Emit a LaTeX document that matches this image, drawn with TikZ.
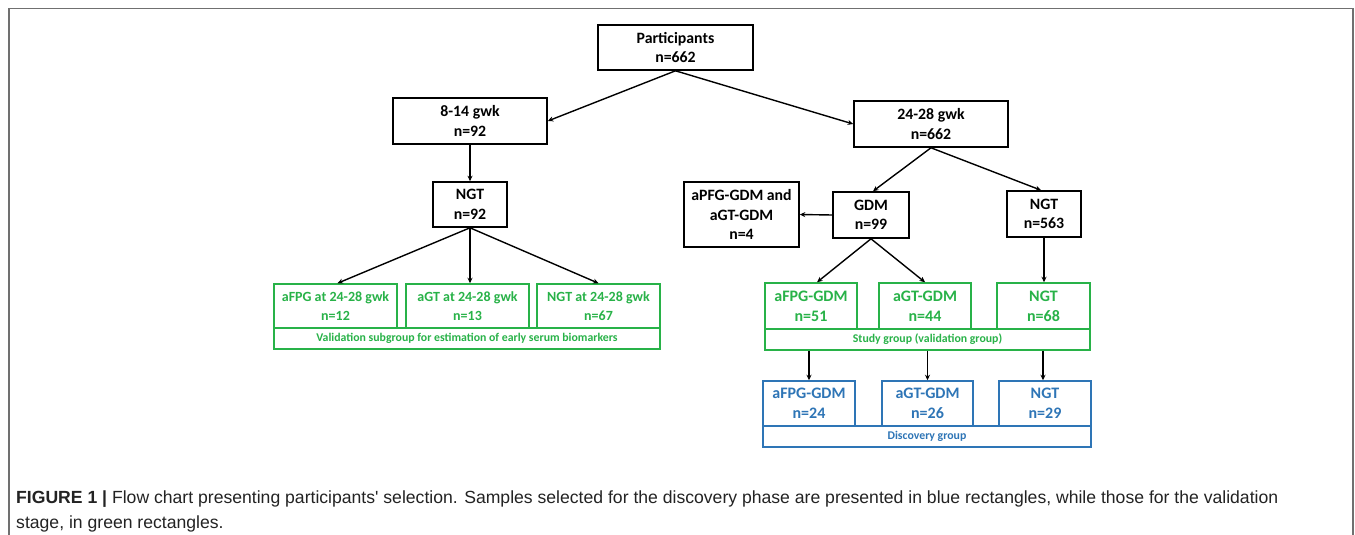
\documentclass[tikz,border=0pt]{standalone}
\usepackage{fontspec}
\setmainfont{Carlito}
\newfontfamily\capfont{Liberation Sans}
\usetikzlibrary{arrows.meta,calc}
\definecolor{fgreen}{RGB}{40,178,72}
\definecolor{fblue}{RGB}{46,117,182}
\definecolor{framegray}{RGB}{112,112,112}
\definecolor{captext}{RGB}{35,35,35}
\begin{document}
\begin{tikzpicture}[x=1pt,y=-1pt,
  box/.style={draw=black,line width=1.6pt,inner sep=0pt,align=center,
    font=\fontsize{15.8}{19.5}\selectfont\bfseries},
  gbox/.style={draw=fgreen,line width=1.5pt,text=fgreen,inner sep=0pt,align=center,
    font=\fontsize{16}{20}\selectfont\bfseries},
  lgbox/.style={gbox,font=\fontsize{14}{19}\selectfont\bfseries},
  gbar/.style={gbox,font=\fontsize{11.8}{14}\selectfont\bfseries},
  bbox/.style={draw=fblue,line width=1.5pt,text=fblue,inner sep=0pt,align=center,
    font=\fontsize{16}{20}\selectfont\bfseries},
  bbar/.style={bbox,font=\fontsize{11.8}{14}\selectfont\bfseries},
  arr/.style={-{Stealth[length=5.5pt,width=5pt]},line width=1.4pt,draw=black}]
\useasboundingbox (0,0) rectangle (1355,535);
\fill[white] (0,0) rectangle (1355,535);
\draw[framegray,line width=1.6pt] (9,536) -- (9,8.5) -- (1353,8.5) -- (1353,536);

% black boxes
\node[box,minimum width=155pt,minimum height=45pt] (P) at (675.5,47.5) {Participants\\n=662};
\node[box,minimum width=154pt,minimum height=46pt] (A) at (470,121) {8-14 gwk\\n=92};
\node[box,minimum width=154pt,minimum height=46pt] (B) at (931,124) {24-28 gwk\\n=662};
\node[box,minimum width=74pt,minimum height=45pt] (N1) at (470,204.5) {NGT\\n=92};
\node[box,minimum width=115pt,minimum height=65pt] (X) at (741.5,214.5) {aPFG-GDM and\\aGT-GDM\\n=4};
\node[box,minimum width=76pt,minimum height=46pt] (G) at (871,215) {GDM\\n=99};
\node[box,minimum width=74pt,minimum height=46pt] (N2) at (1044,214) {NGT\\n=563};

% left green group
\node[lgbox,minimum width=123pt,minimum height=44pt] (lg1) at (335.5,306) {aFPG at 24-28 gwk\\n=12};
\node[lgbox,minimum width=123pt,minimum height=44pt] (lg2) at (467.5,306) {aGT at 24-28 gwk\\n=13};
\node[lgbox,minimum width=123pt,minimum height=44pt] (lg3) at (598.5,306) {NGT at 24-28 gwk\\n=67};
\node[gbar,minimum width=386pt,minimum height=21pt] (lgbar) at (467,338.5) {Validation subgroup for estimation of early serum biomarkers};

% right green group
\node[gbox,minimum width=92pt,minimum height=46pt] (rg1) at (811,306) {aFPG-GDM\\n=51};
\node[gbox,minimum width=92pt,minimum height=46pt] (rg2) at (925,306) {aGT-GDM\\n=44};
\node[gbox,minimum width=93pt,minimum height=46pt] (rg3) at (1043.5,306) {NGT\\n=68};
\node[gbar,minimum width=325pt,minimum height=21pt] (rgbar) at (927.5,339.5) {Study group (validation group)};

% blue group
\node[bbox,minimum width=92pt,minimum height=45pt] (bb1) at (809,403.5) {aFPG-GDM\\n=24};
\node[bbox,minimum width=91pt,minimum height=45pt] (bb2) at (927.5,403.5) {aGT-GDM\\n=26};
\node[bbox,minimum width=92pt,minimum height=45pt] (bb3) at (1045,403.5) {NGT\\n=29};
\node[bbar,minimum width=328pt,minimum height=21pt] (bbar) at (927,436.5) {Discovery group};

% connectors
\draw[arr] (P.south) -- (A.east);
\draw[arr] (P.south) -- (B.west);
\draw[arr] (A.south) -- (N1.north);
\draw[arr] (N1.south) -- ([xshift=2pt]lg1.north);
\draw[arr] (N1.south) -- (N1.south |- lg2.north);
\draw[arr] (N1.south) -- (lg3.north);
\draw[arr] (B.south) -- ([xshift=2pt]G.north);
\draw[arr] (B.south) -- ([xshift=-3pt]N2.north);
\draw[arr] (G.west) -- (X.east);
\draw[arr] (G.south) -- ([xshift=6pt]rg1.north);
\draw[arr] (G.south) -- (rg2.north);
\draw[arr] (N2.south) -- (N2.south |- rg3.north);
\draw[arr] (bb1.north |- rgbar.south) -- (bb1.north);
\draw[arr] (bb2.north |- rgbar.south) -- (bb2.north);
\draw[arr] ([xshift=-2pt]bb3.north |- rgbar.south) -- ([xshift=-2pt]bb3.north);

% caption
\node[anchor=base west,inner sep=0pt,align=left,text=captext,
  font=\capfont\fontsize{17.6}{25}\selectfont] (cap) at (16,528)
  {\textbf{FIGURE 1 |} Flow chart presenting participants' selection. Samples selected for the discovery phase are presented in blue rectangles, while those for the validation\\
   stage, in green rectangles.};
\end{tikzpicture}
\end{document}
